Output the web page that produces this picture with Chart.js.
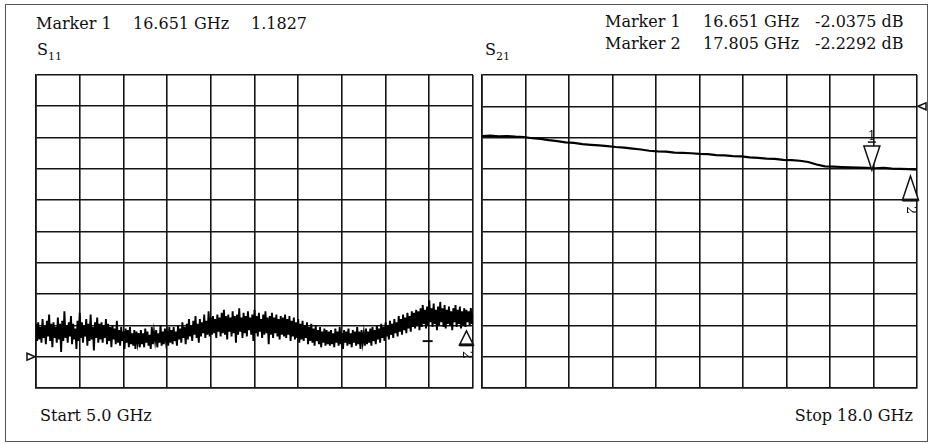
<!DOCTYPE html>
<html>
<head>
<meta charset="utf-8">
<script src="https://cdn.jsdelivr.net/npm/chart.js@4.4.1/dist/chart.umd.min.js"></script>
<style>
  body { margin: 0; background: #fff; }
  #page { position: relative; width: 933px; height: 444px; overflow: hidden; font-family: "DejaVu Serif", serif; color: #111; }
  #frame { position: absolute; left: 5px; top: 4px; width: 923px; height: 438px; border: 1.5px solid #555; box-sizing: border-box; }
  .txt { position: absolute; font-size: 16px; line-height: 16px; white-space: nowrap; }
  .sub { font-size: 11px; position: relative; top: 5px; }
  canvas { position: absolute; }
</style>
</head>
<body>
<div id="page">
  <div id="frame"></div>

  <!-- texte gauche -->
  <div class="txt" style="left:36px; top:16px;">Marker 1</div>
  <div class="txt" style="left:133px; top:16px;">16.651 GHz</div>
  <div class="txt" style="left:251px; top:16px;">1.1827</div>
  <div class="txt" style="left:37px; top:42px;">S<span class="sub">11</span></div>

  <!-- texte droite -->
  <div class="txt" style="left:605px; top:14px;">Marker 1</div>
  <div class="txt" style="left:703px; top:14px;">16.651 GHz</div>
  <div class="txt" style="left:815px; top:14px;">-2.0375 dB</div>
  <div class="txt" style="left:605px; top:36px;">Marker 2</div>
  <div class="txt" style="left:703px; top:36px;">17.805 GHz</div>
  <div class="txt" style="left:815px; top:36px;">-2.2292 dB</div>
  <div class="txt" style="left:485px; top:42px;">S<span class="sub">21</span></div>

  <div class="txt" style="left:40px; top:408px;">Start 5.0 GHz</div>
  <div class="txt" style="right:20px; top:408px;">Stop 18.0 GHz</div>

  <canvas id="s11" width="460" height="330" style="left:20px; top:70px;"></canvas>
  <canvas id="s21" width="455" height="340" style="left:478px; top:70px;"></canvas>
</div>

<script>
// Balayage
const freqStart = 5.0;
const freqStop = 18.0;
const freqTicks = [5, 6.3, 7.6, 8.9, 10.2, 11.5, 12.8, 14.1, 15.4, 16.7, 18];

// S11 (SWR, 0.2 / div, ref 1.0)
const s11Ticks = [0.8, 1.0, 1.2, 1.4, 1.6, 1.8, 2.0, 2.2, 2.4, 2.6, 2.8];
const s11Ref = 1.0;
const s11Values = [
  // 5.0 - 6.9 GHz
  1.21, 1.10, 1.22, 1.11, 1.19, 1.09, 1.24, 1.12, 1.20, 1.08, 1.23, 1.13, 1.27, 1.10, 1.21, 1.06, 1.22, 1.12, 1.19, 1.09,
  1.25, 1.11, 1.21, 1.03, 1.23, 1.10, 1.29, 1.12, 1.20, 1.09, 1.22, 1.13, 1.26, 1.08, 1.21, 1.11, 1.18, 1.05, 1.23, 1.10,
  1.28, 1.12, 1.22, 1.09, 1.20, 1.13, 1.24, 1.07, 1.21, 1.10, 1.27, 1.11, 1.19, 1.04, 1.22, 1.12, 1.25, 1.09, 1.21,
  // 7.0 - 8.1 GHz
  1.11, 1.22, 1.09, 1.20, 1.12, 1.24, 1.08, 1.21, 1.10, 1.19, 1.06, 1.20, 1.11, 1.18, 1.08, 1.23, 1.09, 1.17, 1.07, 1.19,
  1.10, 1.16, 1.05, 1.18, 1.09, 1.17, 1.06, 1.19, 1.08, 1.15, 1.07, 1.17, 1.05, 1.16, 1.09, 1.15, 1.06,
  // 8.1 - 9.0 GHz
  1.17, 1.08, 1.15, 1.06, 1.18, 1.09, 1.16, 1.07, 1.14, 1.05, 1.19, 1.08, 1.16, 1.10, 1.17, 1.06, 1.15, 1.09, 1.20, 1.07,
  1.16, 1.08, 1.18, 1.10, 1.15, 1.07, 1.19, 1.09,
  // 9.0 - 10.2 GHz
  1.17, 1.08, 1.19, 1.10, 1.16, 1.07, 1.20, 1.11, 1.18, 1.09, 1.22, 1.12, 1.19, 1.08, 1.21, 1.11, 1.24, 1.13, 1.20, 1.10,
  1.23, 1.14, 1.26, 1.12, 1.21, 1.09, 1.24, 1.13, 1.22, 1.15, 1.27, 1.12, 1.23, 1.14, 1.29, 1.13, 1.25,
  // 10.2 - 12.3 GHz
  1.14, 1.26, 1.15, 1.24, 1.12, 1.27, 1.16, 1.25, 1.13, 1.28, 1.15, 1.30, 1.14, 1.26, 1.11, 1.27, 1.16, 1.25, 1.13, 1.29,
  1.15, 1.26, 1.09, 1.27, 1.14, 1.31, 1.16, 1.25, 1.12, 1.28, 1.15, 1.26, 1.13, 1.29, 1.17, 1.25, 1.14, 1.27, 1.10, 1.30,
  1.15, 1.26, 1.13, 1.28, 1.16, 1.24, 1.12, 1.27, 1.14, 1.29, 1.15, 1.25, 1.08, 1.26, 1.14, 1.28, 1.12, 1.25, 1.15, 1.27,
  1.13, 1.24, 1.11, 1.26, 1.14,
  // 12.3 - 13.7 GHz
  1.25, 1.13, 1.27, 1.12, 1.24, 1.14, 1.26, 1.10, 1.23, 1.13, 1.25, 1.11, 1.22, 1.12, 1.24, 1.09, 1.21, 1.11, 1.23, 1.10,
  1.20, 1.12, 1.22, 1.08, 1.19, 1.10, 1.21, 1.09, 1.18, 1.07, 1.20, 1.10, 1.17, 1.08, 1.19, 1.06, 1.16, 1.09, 1.18, 1.07,
  1.17, 1.08, 1.16,
  // 13.7 - 14.9 GHz
  1.07, 1.17, 1.08, 1.15, 1.06, 1.18, 1.09, 1.16, 1.07, 1.19, 1.08, 1.15, 1.05, 1.17, 1.09, 1.16, 1.07, 1.18, 1.08, 1.15,
  1.06, 1.17, 1.09, 1.16, 1.07, 1.19, 1.08, 1.16, 1.05, 1.17, 1.09, 1.15, 1.07, 1.18, 1.08, 1.16,
  // 14.9 - 16.2 GHz
  1.09, 1.18, 1.07, 1.19, 1.10, 1.17, 1.08, 1.20, 1.11, 1.18, 1.09, 1.21, 1.12, 1.19, 1.10, 1.22, 1.13, 1.20, 1.11, 1.23,
  1.14, 1.21, 1.12, 1.24, 1.15, 1.22, 1.13, 1.26, 1.16, 1.24, 1.14, 1.27, 1.17, 1.25, 1.15, 1.28, 1.18, 1.26, 1.16, 1.29,
  1.19,
  // 16.2 - 18.0 GHz
  1.28, 1.18, 1.30, 1.20, 1.29, 1.17, 1.31, 1.19, 1.33, 1.21, 1.30, 1.18, 1.32, 1.20, 1.36, 1.22, 1.31, 1.19, 1.34, 1.21,
  1.30, 1.17, 1.32, 1.20, 1.35, 1.22, 1.31, 1.19, 1.33, 1.18, 1.30, 1.21, 1.32, 1.20, 1.29, 1.17, 1.31, 1.22, 1.33, 1.19,
  1.30, 1.21, 1.32, 1.18, 1.29, 1.20, 1.31, 1.19, 1.30, 1.22, 1.29, 1.20, 1.31, 1.21, 1.28
];
const s11Markers = [
  { freq: 16.651, value: 1.1827 },
  { freq: 17.805, value: 1.165 }
];

// S21 (dB, 1 dB / div, ref 0 dB)
const s21Ticks = [-9, -8, -7, -6, -5, -4, -3, -2, -1, 0, 1];
const s21Ref = 0;
const s21Values = [
  -0.95, -0.94, -0.96, -0.95, -0.97, -0.98, -1.02, -1.04, -1.08, -1.11, -1.15, -1.17, -1.21,
  -1.23, -1.25, -1.27, -1.30, -1.32, -1.35, -1.38, -1.42, -1.44, -1.45, -1.48, -1.49, -1.50,
  -1.52, -1.53, -1.56, -1.57, -1.59, -1.60, -1.63, -1.65, -1.67, -1.68, -1.71, -1.72, -1.74,
  -1.78, -1.86, -1.92, -1.93, -1.94, -1.95, -1.96, -1.97, -1.98, -1.97, -1.99, -2.00, -2.01,
  -2.02
];
const s21Markers = [
  { freq: 16.651, value: -2.0375 },
  { freq: 17.805, value: -2.2292 }
];

// points du balayage
function sweep(values) {
  const n = values.length;
  return values.map((v, i) => ({ x: freqStart + (freqStop - freqStart) * i / (n - 1), y: v }));
}

// triangles des marqueurs et de la référence
const markerPlugin = {
  id: 'markers',
  afterDatasetsDraw(chart, args, opts) {
    const ctx = chart.ctx;
    const xs = chart.scales.x;
    const ys = chart.scales.y;
    const area = chart.chartArea;
    ctx.save();
    ctx.strokeStyle = '#111';
    ctx.fillStyle = '#fff';
    ctx.lineWidth = 1.5;

    const ry = ys.getPixelForValue(opts.ref);
    ctx.beginPath();
    if (opts.refSide === 'left') {
      ctx.moveTo(area.left - 1, ry);
      ctx.lineTo(area.left - 9, ry - 3.5);
      ctx.lineTo(area.left - 9, ry + 3.5);
    } else {
      ctx.moveTo(area.right + 1, ry);
      ctx.lineTo(area.right + 9, ry - 3.5);
      ctx.lineTo(area.right + 9, ry + 3.5);
    }
    ctx.closePath();
    ctx.fill();
    ctx.stroke();

    const h = opts.size;
    const w = opts.half;
    opts.list.forEach((m, i) => {
      const x = xs.getPixelForValue(m.freq);
      const y = ys.getPixelForValue(m.value);
      ctx.fillStyle = '#fff';
      ctx.lineWidth = 1.5;
      if (i === 0) {
        if (opts.firstTriangle) {
          ctx.beginPath();
          ctx.moveTo(x, y);
          ctx.lineTo(x - w, y - h);
          ctx.lineTo(x + w, y - h);
          ctx.closePath();
          ctx.fill();
          ctx.stroke();
          ctx.beginPath();
          ctx.moveTo(x - 4, y - h - 4);
          ctx.lineTo(x + 4, y - h - 4);
          ctx.stroke();
          ctx.fillStyle = '#111';
          ctx.font = '12px "DejaVu Serif"';
          ctx.textAlign = 'center';
          ctx.fillText('1', x, y - h - 6);
        } else {
          ctx.lineWidth = 2;
          ctx.beginPath();
          ctx.moveTo(x - 5, y + 13);
          ctx.lineTo(x + 5, y + 13);
          ctx.stroke();
        }
      } else {
        ctx.beginPath();
        ctx.moveTo(x, y);
        ctx.lineTo(x - w, y + h);
        ctx.lineTo(x + w, y + h);
        ctx.closePath();
        ctx.fill();
        ctx.stroke();
        ctx.lineWidth = 3;
        ctx.beginPath();
        ctx.moveTo(x - w, y + h);
        ctx.lineTo(x + w, y + h);
        ctx.stroke();
        ctx.save();
        ctx.translate(x, y + h + 10);
        ctx.rotate(Math.PI / 2);
        ctx.fillStyle = '#111';
        ctx.font = '13px "DejaVu Serif"';
        ctx.textAlign = 'center';
        ctx.textBaseline = 'middle';
        ctx.fillText('2', 0, 0);
        ctx.restore();
      }
    });
    ctx.restore();
  }
};

function gridAxis(ticks, min, max) {
  return {
    type: 'linear',
    min: min,
    max: max,
    afterBuildTicks: scale => { scale.ticks = ticks.map(v => ({ value: v })); },
    ticks: { display: false },
    grid: { color: '#151515', lineWidth: 1.6, drawTicks: false },
    border: { display: true, color: '#151515', width: 1.6 }
  };
}

function makeChart(id, values, yTicks, lineWidth, padding, markerOpts) {
  return new Chart(document.getElementById(id), {
    type: 'line',
    data: {
      datasets: [{
        data: sweep(values),
        borderColor: '#000',
        borderWidth: lineWidth,
        pointRadius: 0,
        tension: 0,
        fill: false
      }]
    },
    options: {
      responsive: false,
      animation: false,
      devicePixelRatio: 1,
      layout: { padding: padding },
      plugins: {
        legend: { display: false },
        tooltip: { enabled: false },
        markers: markerOpts
      },
      scales: {
        x: gridAxis(freqTicks, freqStart, freqStop),
        y: gridAxis(yTicks, yTicks[0], yTicks[yTicks.length - 1])
      }
    },
    plugins: [markerPlugin]
  });
}

makeChart('s11', s11Values, s11Ticks, 1.9,
  { left: 16, right: 7, top: 5, bottom: 12 },
  { ref: s11Ref, refSide: 'left', list: s11Markers, size: 14, half: 7, firstTriangle: false });

makeChart('s21', s21Values, s21Ticks, 2.2,
  { left: 4, right: 16, top: 5, bottom: 22 },
  { ref: s21Ref, refSide: 'right', list: s21Markers, size: 24, half: 8, firstTriangle: true });
</script>
</body>
</html>
